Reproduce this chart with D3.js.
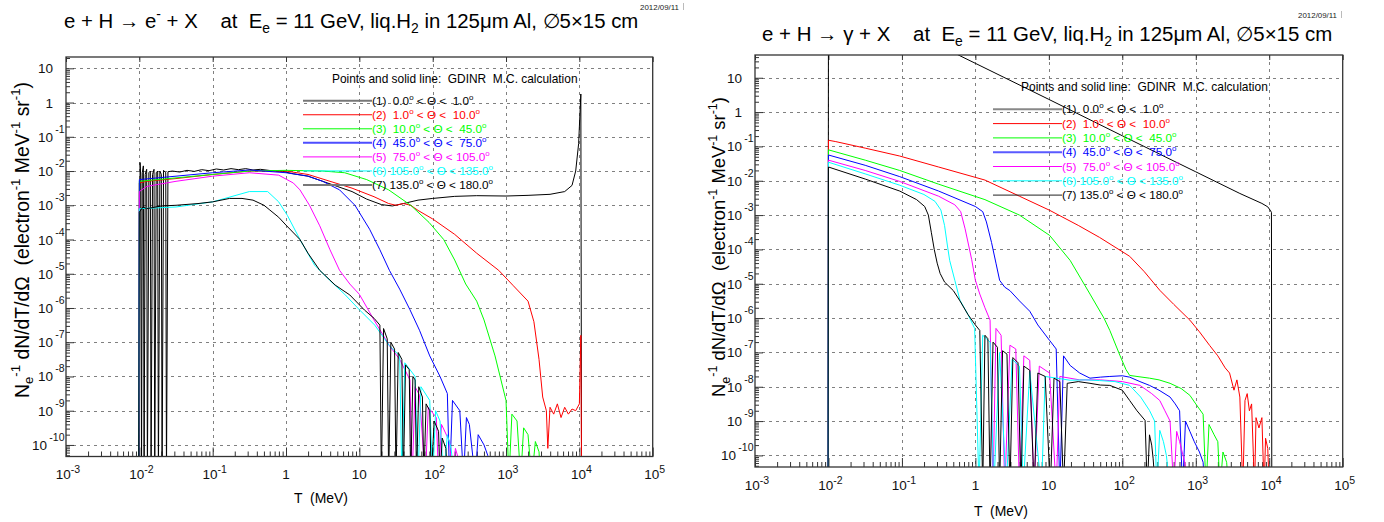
<!DOCTYPE html>
<html>
<head>
<meta charset="utf-8">
<script src="https://cdn.jsdelivr.net/npm/d3@7/dist/d3.min.js"></script>
<style>
  body { margin: 0; background: #fff; }
  svg text { font-family: "Liberation Sans", Arial, Helvetica, sans-serif; white-space: pre; }
</style>
</head>
<body>
<svg id="chart" width="1384" height="522"></svg>
<script>
// decade exponents used for ticks / grid
var xExponents = [-3, -2, -1, 0, 1, 2, 3, 4, 5];
var yExponents = [-10, -9, -8, -7, -6, -5, -4, -3, -2, -1, 0, 1];

var seriesColors = ["#000000", "#ff0000", "#00ff00", "#0000ff", "#ff00ff", "#00ffff", "#000000"];
var legendIndex = ["(1)", "(2)", "(3)", "(4)", "(5)", "(6)", "(7)"];
var thetaLow = ["0.0", "1.0", "10.0", "45.0", "75.0", "105.0", "135.0"];
var thetaHigh = ["1.0", "10.0", "45.0", "75.0", "105.0", "135.0", "180.0"];

// all series: [log10 T(MeV), log10 yield]; -11 = empty bin (below the frame)
var eTheta1 = [[-2.0,-11],[-1.99,-1.75],[-1.98,-2.2],[-1.97,-11],[-1.96,-2.05],[-1.945,-1.85],[-1.935,-11],[-1.92,-2.1],[-1.9,-1.95],[-1.89,-11],[-1.87,-2.05],[-1.85,-2.0],[-1.84,-11],[-1.82,-2.1],[-1.8,-1.95],[-1.79,-11],[-1.77,-2.05],[-1.75,-2.0],[-1.74,-11],[-1.72,-2.0],[-1.7,-2.1],[-1.69,-11],[-1.67,-1.98],[-1.64,-2.05],[-1.63,-11],[-1.61,-2.02],[-1.55,-2.0],[-1.45,-2.03],[-1.35,-1.98],[-1.25,-2.01],[-1.15,-1.96],[-1.05,-1.99],[-0.95,-1.94],[-0.85,-1.97],[-0.75,-1.93],[-0.65,-1.96],[-0.55,-1.93],[-0.45,-1.97],[-0.35,-1.95],[-0.2,-1.99],[-0.05,-2.01],[0.1,-2.08],[0.3,-2.15],[0.5,-2.3],[0.7,-2.45],[0.9,-2.6],[1.1,-2.82],[1.3,-2.98],[1.45,-3.02],[1.6,-2.95],[1.8,-2.85],[2.0,-2.8],[2.3,-2.74],[2.6,-2.72],[3.0,-2.73],[3.3,-2.71],[3.6,-2.68],[3.8,-2.6],[3.9,-2.42],[3.95,-2.0],[3.99,-1.2],[4.02,0.25],[4.03,-11]];
var eTheta2 = [[-2.01,-11],[-2,-2.35],[-1.9,-2.3],[-1.5,-2.22],[-1,-2.1],[-0.5,-2.0],[0,-2.0],[0.3,-2.1],[0.6,-2.3],[0.9,-2.5],[1.2,-2.75],[1.4,-2.95],[1.5,-3.0],[1.6,-2.95],[1.7,-3.0],[1.8,-3.15],[2.0,-3.4],[2.3,-3.85],[2.6,-4.4],[2.9,-4.9],[3.1,-5.35],[3.3,-5.8],[3.38,-6.4],[3.45,-7.5],[3.5,-8.6],[3.55,-9.0],[3.57,-10.1],[3.6,-8.9],[3.65,-9.1],[3.7,-8.8],[3.75,-9.2],[3.8,-8.9],[3.85,-9.1],[3.9,-8.95],[3.95,-9.0],[4.0,-8.8],[4.02,-6.8],[4.03,-11]];
var eTheta3 = [[-2.01,-11],[-2,-2.3],[-1.5,-2.2],[-1,-2.1],[-0.5,-2.0],[0,-1.98],[0.5,-2.0],[0.8,-2.05],[1.1,-2.25],[1.4,-2.55],[1.7,-3.0],[1.95,-3.5],[2.15,-4.0],[2.3,-4.6],[2.45,-5.3],[2.6,-5.8],[2.7,-6.35],[2.85,-7.4],[3.0,-8.7],[3.04,-11],[3.08,-9.1],[3.15,-9.3],[3.2,-11],[3.24,-9.5],[3.3,-9.7],[3.35,-11],[3.4,-9.9],[3.45,-10.2],[3.47,-11]];
var eTheta4 = [[-2.01,-11],[-2,-2.25],[-1.5,-2.15],[-1,-2.05],[-0.5,-1.97],[0,-2.05],[0.3,-2.15],[0.5,-2.3],[0.73,-2.55],[0.94,-3.0],[1.14,-3.7],[1.28,-4.3],[1.41,-4.9],[1.55,-5.45],[1.69,-6.05],[1.82,-6.65],[1.96,-7.4],[2.1,-8.0],[2.2,-8.5],[2.23,-11],[2.27,-8.7],[2.37,-9.0],[2.42,-11],[2.46,-9.2],[2.5,-9.4],[2.58,-11],[2.62,-9.7],[2.7,-10.0],[2.75,-10.3],[2.8,-11]];
var eTheta5 = [[-2.01,-11],[-2,-2.6],[-1.9,-2.45],[-1.5,-2.3],[-1,-2.15],[-0.5,-2.05],[-0.1,-2.12],[0.1,-2.35],[0.19,-2.55],[0.32,-3.0],[0.46,-3.6],[0.6,-4.3],[0.73,-4.9],[0.87,-5.3],[1.0,-5.6],[1.2,-6.35],[1.41,-7.1],[1.55,-7.5],[1.69,-8.1],[1.72,-11],[1.76,-8.3],[1.82,-8.55],[1.9,-11],[1.94,-8.9],[2.05,-9.2],[2.08,-11],[2.12,-9.4],[2.23,-9.9],[2.27,-11],[2.31,-10.1],[2.35,-10.4],[2.4,-11]];
var eTheta6 = [[-2.01,-11],[-2,-3.1],[-1.5,-3.05],[-1,-2.9],[-0.5,-2.6],[-0.25,-2.6],[-0.1,-2.9],[0.02,-3.3],[0.19,-4.0],[0.39,-4.75],[0.6,-5.2],[0.8,-5.6],[1.0,-6.05],[1.21,-6.5],[1.41,-7.1],[1.55,-7.4],[1.58,-11],[1.62,-7.6],[1.76,-8.0],[1.8,-11],[1.84,-8.3],[1.96,-8.7],[2.0,-11],[2.04,-9.0],[2.1,-9.3],[2.15,-11],[2.2,-9.7],[2.25,-10.1],[2.3,-11]];
var eTheta7 = [[-2.01,-11],[-2,-3.2],[-1.95,-3.05],[-1.9,-3.1],[-1.7,-3.02],[-1.5,-3.0],[-1.2,-2.95],[-1,-2.9],[-0.77,-2.8],[-0.6,-2.8],[-0.45,-2.85],[-0.3,-3.0],[-0.22,-3.14],[-0.1,-3.35],[0,-3.58],[0.19,-4.0],[0.3,-4.4],[0.46,-4.9],[0.67,-5.33],[0.87,-5.62],[1.07,-6.06],[1.2,-6.3],[1.28,-6.5],[1.3,-11],[1.33,-6.6],[1.38,-6.9],[1.4,-11],[1.43,-7.0],[1.48,-7.2],[1.5,-11],[1.53,-7.3],[1.58,-7.5],[1.6,-11],[1.63,-7.66],[1.68,-7.8],[1.7,-11],[1.73,-8.0],[1.76,-8.1],[1.78,-11],[1.81,-8.3],[1.86,-8.6],[1.88,-11],[1.91,-8.8],[1.96,-9.0],[1.98,-11],[2.02,-9.3],[2.08,-9.6],[2.1,-11],[2.13,-9.8],[2.18,-10.1],[2.2,-11]];

var gTheta1 = [[-2.005,-11],[-2.0,3.5],[-1.0,2.47],[0,1.42],[1,0.37],[2,-0.69],[3,-1.74],[3.6,-2.37],[3.9,-2.66],[3.98,-2.76],[4.01,-2.85],[4.03,-2.92],[4.035,-11]];
var gTheta2 = [[-2.005,-11],[-2,-0.82],[-1.9,-0.86],[-1.5,-1.05],[-1.03,-1.28],[-0.5,-1.6],[0.13,-1.98],[0.6,-2.45],[1.01,-2.86],[1.4,-3.3],[1.69,-3.65],[2.1,-4.2],[2.3,-4.65],[2.51,-5.19],[2.7,-5.6],[2.92,-6.06],[3.05,-6.4],[3.19,-6.8],[3.3,-7.1],[3.4,-7.45],[3.46,-7.6],[3.52,-8.1],[3.56,-7.8],[3.6,-8.3],[3.64,-11],[3.67,-8.4],[3.7,-8.2],[3.73,-8.7],[3.76,-8.5],[3.8,-11],[3.82,-8.9],[3.86,-9.2],[3.9,-8.9],[3.93,-11],[3.95,-9.5],[3.98,-9.8],[4.0,-11]];
var gTheta3 = [[-2.005,-11],[-2,-1.1],[-1.5,-1.4],[-1.03,-1.7],[-0.5,-2.1],[0.13,-2.55],[0.6,-3.0],[1.01,-3.59],[1.29,-4.32],[1.56,-5.3],[1.75,-6.0],[1.83,-6.36],[1.97,-7.1],[2.05,-7.5],[2.1,-7.67],[2.2,-7.7],[2.37,-7.75],[2.5,-7.8],[2.65,-7.9],[2.8,-8.05],[2.92,-8.25],[3.0,-8.5],[3.1,-8.8],[3.14,-11],[3.18,-9.1],[3.25,-9.4],[3.3,-9.6],[3.33,-11],[3.37,-9.9],[3.42,-10.2],[3.45,-11]];
var gTheta4 = [[-2.005,-11],[-2,-1.25],[-1.5,-1.55],[-1.03,-1.88],[-0.5,-2.3],[0.0,-2.75],[0.1,-2.9],[0.15,-3.2],[0.22,-3.8],[0.28,-4.4],[0.33,-4.9],[0.4,-5.1],[0.47,-5.2],[0.6,-5.5],[0.74,-5.8],[0.85,-6.2],[1.01,-6.65],[1.1,-6.9],[1.15,-11],[1.2,-7.1],[1.29,-7.38],[1.42,-7.6],[1.56,-7.75],[1.7,-7.72],[1.83,-7.7],[2.0,-7.68],[2.1,-7.72],[2.24,-7.85],[2.37,-7.96],[2.5,-8.1],[2.65,-8.3],[2.72,-8.5],[2.78,-8.7],[2.82,-11],[2.86,-9.0],[2.92,-9.3],[2.98,-9.6],[3.05,-9.9],[3.1,-10.2],[3.12,-11]];
var gTheta5 = [[-2.005,-11],[-2,-1.4],[-1.5,-1.7],[-1.03,-2.02],[-0.5,-2.45],[-0.28,-2.7],[-0.2,-2.9],[-0.14,-3.4],[-0.09,-3.9],[-0.05,-4.3],[0.0,-4.9],[0.06,-5.3],[0.13,-5.7],[0.2,-6.06],[0.24,-11],[0.28,-6.3],[0.35,-6.5],[0.4,-11],[0.47,-6.79],[0.55,-6.9],[0.6,-11],[0.66,-7.1],[0.74,-7.23],[0.8,-11],[0.87,-7.4],[1.01,-7.6],[1.1,-11],[1.15,-7.7],[1.42,-7.8],[1.7,-7.8],[1.83,-7.82],[2.0,-7.85],[2.24,-7.96],[2.4,-8.2],[2.51,-8.4],[2.58,-8.7],[2.65,-9.0],[2.7,-11],[2.74,-9.3],[2.78,-9.6],[2.85,-10.2],[2.9,-11]];
var gTheta6 = [[-2.005,-11],[-2,-1.46],[-1.5,-1.8],[-1.03,-2.13],[-0.7,-2.4],[-0.55,-2.6],[-0.47,-2.85],[-0.42,-3.3],[-0.38,-3.9],[-0.35,-4.32],[-0.28,-4.9],[-0.21,-5.48],[-0.1,-5.9],[-0.01,-6.3],[0.05,-11],[0.1,-6.5],[0.2,-6.7],[0.25,-11],[0.33,-7.0],[0.42,-11],[0.5,-7.2],[0.6,-7.4],[0.65,-11],[0.74,-7.55],[0.9,-11],[0.95,-7.7],[1.29,-7.81],[1.5,-7.8],[1.69,-7.82],[1.9,-7.85],[2.1,-7.96],[2.25,-8.3],[2.37,-8.69],[2.44,-9.0],[2.47,-11],[2.51,-9.27],[2.56,-9.6],[2.6,-10.0],[2.65,-11]];
var gTheta7 = [[-2.005,-11],[-2,-1.6],[-1.5,-1.95],[-1.03,-2.3],[-0.8,-2.55],[-0.69,-2.75],[-0.64,-3.0],[-0.6,-3.5],[-0.56,-4.0],[-0.52,-4.4],[-0.48,-4.7],[-0.42,-4.95],[-0.3,-5.2],[-0.21,-5.5],[-0.1,-5.9],[0.0,-6.2],[0.06,-6.36],[0.1,-11],[0.13,-6.5],[0.17,-6.6],[0.2,-11],[0.24,-6.7],[0.3,-6.85],[0.33,-11],[0.37,-6.95],[0.43,-7.05],[0.47,-11],[0.51,-7.15],[0.58,-7.3],[0.62,-11],[0.66,-7.4],[0.74,-7.52],[0.8,-11],[0.85,-7.6],[0.95,-7.7],[1.02,-11],[1.07,-7.75],[1.15,-7.85],[1.2,-11],[1.25,-7.9],[1.4,-7.85],[1.56,-7.9],[1.7,-7.95],[1.83,-7.96],[2.0,-8.1],[2.1,-8.4],[2.2,-8.7],[2.31,-8.98],[2.34,-11],[2.37,-9.4],[2.4,-9.7],[2.42,-10.1],[2.45,-11]];

var svg = d3.select("#chart");

// text made of normal / sup / sub pieces
function richText(parent, parts, size, attrs) {
    var t = parent.append("text").attr("font-size", size);
    Object.keys(attrs).forEach(function (k) { t.attr(k, attrs[k]); });
    var shift = 0;
    parts.forEach(function (p) {
        var kind = p[1] || "";
        var target = kind == "sup" ? -0.42 * size : (kind == "sub" ? 0.25 * size : 0);
        t.append("tspan")
            .attr("dy", target - shift)
            .attr("font-size", kind ? size * (p[2] || 0.68) : size)
            .text(p[0]);
        shift = target;
    });
    return t;
}
function fitSize(parent, parts, width) {
    var probe = richText(parent, parts, 20, {});
    var w = probe.node().getComputedTextLength();
    probe.remove();
    return 20 * width / w;
}
function fitRichText(parent, parts, width, attrs) {
    return richText(parent, parts, fitSize(parent, parts, width), attrs);
}

function drawPanel(p) {
    var g = svg.append("g");
    var x = d3.scaleLog().domain([1e-3, 1e5]).range([p.left, p.right]);
    var y = d3.scaleLog().domain([p.yMin, p.yMax]).range([p.bottom, p.top]);

    svg.append("clipPath").attr("id", "clip" + p.id)
        .append("rect")
        .attr("x", p.left).attr("y", p.top)
        .attr("width", p.right - p.left).attr("height", p.bottom - p.top);

    // dashed grid
    var grid = g.append("g").attr("stroke", "#808080").attr("stroke-width", 1).attr("stroke-dasharray", "3,4");
    grid.selectAll("line.vx")
        .data(xExponents.filter(function (k) { return k > -3 && k < 5; }))
        .enter().append("line")
        .attr("x1", function (k) { return Math.round(x(Math.pow(10, k))) + 0.5; })
        .attr("x2", function (k) { return Math.round(x(Math.pow(10, k))) + 0.5; })
        .attr("y1", p.top).attr("y2", p.bottom);
    grid.selectAll("line.hy")
        .data(yExponents)
        .enter().append("line")
        .attr("y1", function (k) { return Math.round(y(Math.pow(10, k))) + 0.5; })
        .attr("y2", function (k) { return Math.round(y(Math.pow(10, k))) + 0.5; })
        .attr("x1", p.left).attr("x2", p.right);

    // ticks
    var xMajor = xExponents.map(function (k) { return Math.pow(10, k); });
    var xMinor = [];
    xExponents.forEach(function (k) {
        for (var m = 2; m < 10; m++) { if (m * Math.pow(10, k) < 1e5) xMinor.push(m * Math.pow(10, k)); }
    });
    var yMajor = yExponents.map(function (k) { return Math.pow(10, k); });
    var yMinor = [];
    [-11].concat(yExponents).forEach(function (k) {
        for (var m = 2; m < 10; m++) {
            var v = m * Math.pow(10, k);
            if (v > p.yMin && v < p.yMax) yMinor.push(v);
        }
    });
    function noDomain(sel) { sel.select(".domain").remove(); sel.attr("color", "#333"); }
    g.append("g").attr("transform", "translate(0," + p.bottom + ")")
        .call(d3.axisBottom(x).tickValues(xMinor).tickSize(-5).tickFormat("")).call(noDomain);
    g.append("g").attr("transform", "translate(0," + p.bottom + ")")
        .call(d3.axisBottom(x).tickValues(xMajor).tickSize(-9).tickFormat("")).call(noDomain);
    g.append("g").attr("transform", "translate(0," + p.top + ")")
        .call(d3.axisTop(x).tickValues(xMajor).tickSize(-5).tickFormat("")).call(noDomain);
    g.append("g").attr("transform", "translate(" + p.left + ",0)")
        .call(d3.axisLeft(y).tickValues(yMinor).tickSize(-4).tickFormat("")).call(noDomain);
    g.append("g").attr("transform", "translate(" + p.left + ",0)")
        .call(d3.axisLeft(y).tickValues(yMajor).tickSize(-8).tickFormat("")).call(noDomain);

    // tick labels
    xExponents.forEach(function (k) {
        var parts = k == 0 ? [["1"]] : (k == 1 ? [["10"]] : [["10"], [String(k), "sup", 0.78]]);
        richText(g, parts, 13.5, { x: x(Math.pow(10, k)) + (k == 0 || k == 1 ? 0 : 2), y: p.bottom + 22.5, "text-anchor": "middle", fill: "#111" });
    });
    yExponents.forEach(function (k) {
        var yy = y(Math.pow(10, k));
        // the wide "-10" exponent needs the base pushed a bit further left
        g.append("text").attr("x", p.left - (k == -10 ? 19 : 13)).attr("y", yy + 5)
            .attr("text-anchor", "end").attr("font-size", 13.5).attr("fill", "#111")
            .text(k == 0 ? "1" : "10");
        if (k != 0 && k != 1) {
            g.append("text").attr("x", p.left - 1.5).attr("y", yy - 4)
                .attr("text-anchor", "end").attr("font-size", 10.5).attr("fill", "#111")
                .text(String(k));
        }
    });

    // curves
    var line = d3.line()
        .x(function (d) { return x(Math.pow(10, d[0])); })
        .y(function (d) { return y(Math.pow(10, d[1])); });
    g.append("g").attr("clip-path", "url(#clip" + p.id + ")")
        .selectAll("path")
        .data(p.series)
        .enter()
        .append("path")
        .attr("d", function (d) { return line(d); })
        .attr("fill", "none")
        .attr("stroke", function (d, i) { return seriesColors[i]; })
        .attr("stroke-width", 1);

    // frame
    g.append("rect")
        .attr("x", p.left).attr("y", p.top)
        .attr("width", p.right - p.left).attr("height", p.bottom - p.top)
        .attr("fill", "none").attr("stroke", "#333").attr("stroke-width", 1.3);

    // legend
    fitRichText(g, [["Points and solid line:  GDINR  M.C. calculation"]], p.legHeadW,
        { x: p.legHeadX, y: p.legHeadY, fill: "#000" });
    var rows = legendIndex.map(function (idx, i) {
        var lo = thetaLow[i], hi = thetaHigh[i];
        return [[idx + (lo.length < 5 ? "  " : " ") + lo], ["o", "sup"],
                [" < \u0398 <" + (hi.length < 5 ? "  " : " ") + hi], ["o", "sup"]];
    });
    var rowSize = fitSize(g, rows[6], p.legRowW);
    rows.forEach(function (parts, i) {
        var cy = p.legY0 + i * p.legDy;
        g.append("line")
            .attr("x1", p.legX0).attr("x2", p.legX1).attr("y1", cy).attr("y2", cy)
            .attr("stroke", p.legStroke[i] || seriesColors[i])
            .attr("stroke-width", p.legWidth[i] || 1);
        richText(g, parts, rowSize, { x: p.legX1, y: cy + 4, fill: seriesColors[i] });
    });

    // titles
    fitRichText(svg, p.title, p.titleW, { x: p.titleX, y: p.titleY, fill: "#000" });
    fitRichText(svg, [["2012/09/11"]], 39, { x: p.dateX, y: p.dateY, "text-anchor": "end", fill: "#222" });
    svg.append("line").attr("x1", p.dateX + 4.5).attr("x2", p.dateX + 4.5)
        .attr("y1", p.dateY - 7).attr("y2", p.dateY).attr("stroke", "#bbb");
    fitRichText(svg, [["T  (MeV)"]], 54, { x: p.xTitleX, y: p.xTitleY, "text-anchor": "middle", fill: "#000" });
    var yt = svg.append("g").attr("transform", "translate(" + p.yTitleX + "," + p.yTitleY + ") rotate(-90)");
    fitRichText(yt, [["N"], ["e", "sub"], ["-1", "sup"], [" dN/dT/d\u03A9  (electron"], ["-1", "sup"],
        [" MeV"], ["-1", "sup"], [" sr"], ["-1", "sup"], [")"]], p.yTitleW,
        { x: 0, y: 0, "text-anchor": "middle", fill: "#000" });
}

drawPanel({
    id: "e", left: 66, right: 652.7, top: 57, bottom: 456.5, yMin: 4.6e-11, yMax: 21.4,
    series: [eTheta1, eTheta2, eTheta3, eTheta4, eTheta5, eTheta6, eTheta7],
    title: [["e + H \u2192 e"], ["-", "sup"], [" + X    at  E"], ["e", "sub"], [" = 11 GeV, liq.H"], ["2", "sub"], [" in 125\u03BCm Al, \u22055\u00D715 cm"]],
    titleX: 64, titleY: 28, titleW: 575, dateX: 679, dateY: 10,
    xTitleX: 321, xTitleY: 503, yTitleX: 28.5, yTitleY: 240, yTitleW: 316,
    legHeadX: 332, legHeadY: 82.5, legHeadW: 246, legRowW: 121,
    legX0: 303, legX1: 372, legY0: 100.7, legDy: 14.05,
    legStroke: ["#777", null, null, "#4d4dff", null, null, "#777"], legWidth: [2, 1, 1, 2, 1, 1, 2]
});
drawPanel({
    id: "g", left: 755, right: 1342.7, top: 55, bottom: 467, yMin: 4.6e-11, yMax: 46,
    series: [gTheta1, gTheta2, gTheta3, gTheta4, gTheta5, gTheta6, gTheta7],
    title: [["e + H \u2192 \u03B3 + X    at  E"], ["e", "sub"], [" = 11 GeV, liq.H"], ["2", "sub"], [" in 125\u03BCm Al, \u22055\u00D715 cm"]],
    titleX: 762, titleY: 41, titleW: 571, dateX: 1337, dateY: 18,
    xTitleX: 1001, xTitleY: 516, yTitleX: 725, yTitleY: 247, yTitleW: 300,
    legHeadX: 1021, legHeadY: 91, legHeadW: 247, legRowW: 121,
    legX0: 993, legX1: 1062, legY0: 109.3, legDy: 14.3,
    legStroke: ["#888", null, null, "#5a5aff", null, null, "#222"], legWidth: [2, 1, 1, 2, 1, 1, 1]
});
</script>
</body>
</html>
